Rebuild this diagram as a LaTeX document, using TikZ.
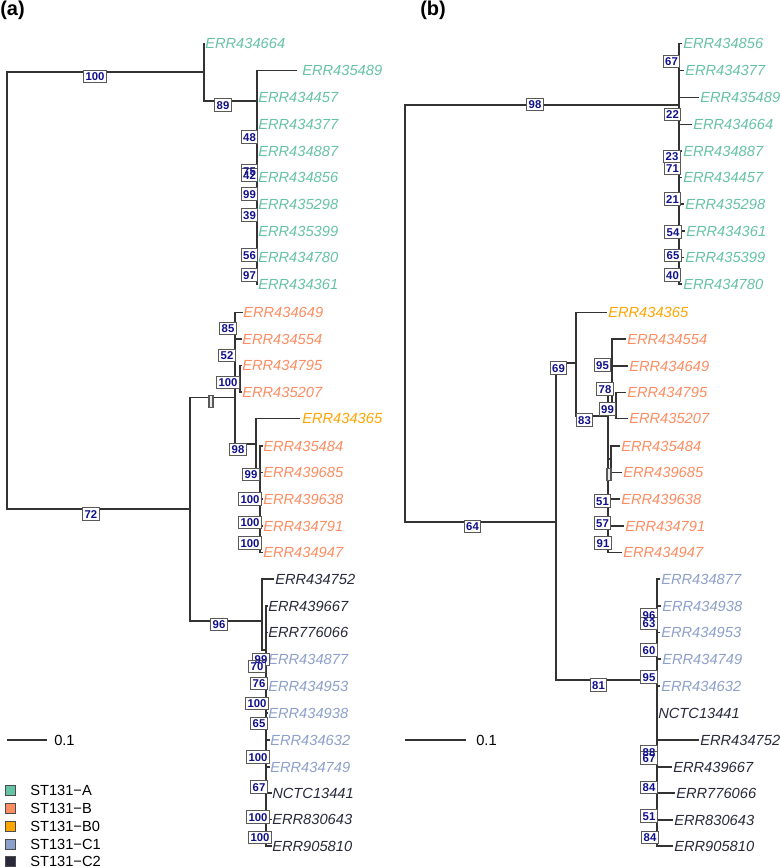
\documentclass[tikz,border=0pt]{standalone}
\usepackage{fontspec}
\setmainfont{Liberation Sans}
\definecolor{cA}{HTML}{66C2A5}
\definecolor{cB}{HTML}{FC8D62}
\definecolor{cBz}{HTML}{FFA500}
\definecolor{cCa}{HTML}{8DA0CB}
\definecolor{cCb}{HTML}{282A3C}
\definecolor{bootc}{HTML}{10108C}
\definecolor{brc}{HTML}{333333}
\begin{document}
\begin{tikzpicture}[x=0.75pt,y=-0.75pt,
  br/.style={draw=brc, line width=0.8pt},
  tip/.style={anchor=west, inner sep=0pt, font=\fontsize{11}{13}\selectfont\itshape},
  bsframe/.style={draw=black!65, fill=white, line width=0.85pt,
    font=\fontsize{8.5}{9}\selectfont\bfseries, inner xsep=1.4pt, inner ysep=1.7pt,
    text height=6.2pt, text depth=0pt},
  bstext/.style={text=bootc, font=\fontsize{8.5}{9}\selectfont\bfseries,
    inner xsep=1.4pt, inner ysep=1.7pt, text height=6.2pt, text depth=0pt},
  emptybox/.style={draw=black!65, fill=black!8, line width=0.8pt, minimum width=3pt,
    minimum height=9.6pt, inner sep=0pt},
  lgbox/.style={draw=black!70, line width=0.5pt, minimum size=7.5pt, inner sep=0pt},
  lgtext/.style={anchor=west, inner sep=0pt, font=\fontsize{11}{13}\selectfont},
  plabel/.style={anchor=base west, inner sep=0pt, font=\fontsize{15}{17}\selectfont\bfseries}]
\useasboundingbox (0,0) rectangle (780,867);

% ---------- panel labels ----------
\node[plabel] (pa) at (0,16) {(a)};
\node[plabel] (pb) at (420,16) {(b)};

% ---------- panel (a) tips ----------
\node[tip,cA] (a664) at (205,43.5) {ERR434664};
\node[tip,cA] (a489) at (302,70.5) {ERR435489};
\node[tip,cA] (a457) at (258,97.5) {ERR434457};
\node[tip,cA] (a377) at (258,124.5) {ERR434377};
\node[tip,cA] (a887) at (258,151) {ERR434887};
\node[tip,cA] (a856) at (258,177.5) {ERR434856};
\node[tip,cA] (a298) at (258,204) {ERR435298};
\node[tip,cA] (a399) at (258,231) {ERR435399};
\node[tip,cA] (a780) at (258,257.5) {ERR434780};
\node[tip,cA] (a361) at (258,284) {ERR434361};
\node[tip,cB] (a649) at (243,312.5) {ERR434649};
\node[tip,cB] (a554) at (242,339) {ERR434554};
\node[tip,cB] (a795) at (242,365.5) {ERR434795};
\node[tip,cB] (a207) at (242,392) {ERR435207};
\node[tip,cBz] (a365) at (302,418.5) {ERR434365};
\node[tip,cB] (a484) at (263,446) {ERR435484};
\node[tip,cB] (a685) at (263,472.5) {ERR439685};
\node[tip,cB] (a638) at (263,499) {ERR439638};
\node[tip,cB] (a791) at (263,526) {ERR434791};
\node[tip,cB] (a947) at (263,552.5) {ERR434947};
\node[tip,cCb] (a752) at (275,579) {ERR434752};
\node[tip,cCb] (a667) at (268,606) {ERR439667};
\node[tip,cCb] (a066) at (268,632.5) {ERR776066};
\node[tip,cCa] (a877) at (268,659) {ERR434877};
\node[tip,cCa] (a953) at (268,686) {ERR434953};
\node[tip,cCa] (a938) at (268,713) {ERR434938};
\node[tip,cCa] (a632) at (270,740) {ERR434632};
\node[tip,cCa] (a749) at (270,767) {ERR434749};
\node[tip,cCb] (a441) at (272,793) {NCTC13441};
\node[tip,cCb] (a643) at (272,819.5) {ERR830643};
\node[tip,cCb] (a810) at (272,846) {ERR905810};

% ---------- panel (a) internal nodes ----------
\coordinate (ar) at (7,290);
\coordinate (aA) at (204,72);
\coordinate (aA2) at (257,101);
\coordinate (aBC) at (190,509);
\coordinate (aB) at (235,397.7);
\coordinate (aB2) at (240,378.5);
\coordinate (aB3) at (256,444);
\coordinate (aB4) at (260,470);
\coordinate (aC) at (262,621);
\coordinate (aC1) at (266,650);

% ---------- panel (a) branches ----------
\draw[br] (ar) |- (aA);
\draw[br] (ar) |- (aBC);
\draw[br] (aA) |- (a664.west);
\draw[br] (aA) |- (aA2);
\draw[br] (aA2) |- ([xshift=-3.5pt]a489.west);
\foreach \t in {a457,a377,a887,a856,a298,a399,a780,a361}{\draw[br] (aA2) |- (\t.west);}
\draw[br] (aBC) |- (aB);
\draw[br] (aBC) |- (aC);
\draw[br] (aB) |- (a649.west);
\draw[br] (aB) |- (a554.west);
\draw[br] (aB) |- (aB2);
\draw[br] (aB2) |- (a795.west);
\draw[br] (aB2) |- (a207.west);
\draw[br] (aB) |- (aB3);
\draw[br] (aB3) |- ([xshift=-1.5pt]a365.west);
\draw[br] (aB3) |- (aB4);
\foreach \t in {a484,a685,a638,a791,a947}{\draw[br] (aB4) |- (\t.west);}
\draw[br] (aC) |- ([xshift=-0.5pt]a752.west);
\draw[br] (aC) |- (aC1);
\foreach \t in {a667,a066,a877,a953,a938,a632,a749,a441,a643,a810}{\draw[br] (aC1) |- (\t.west);}

% ---------- panel (b) tips ----------
\node[tip,cA] (b856) at (683,43.5) {ERR434856};
\node[tip,cA] (b377) at (685,70.5) {ERR434377};
\node[tip,cA] (b489) at (700,97.5) {ERR435489};
\node[tip,cA] (b664) at (693,124.5) {ERR434664};
\node[tip,cA] (b887) at (683,151) {ERR434887};
\node[tip,cA] (b457) at (683,177.5) {ERR434457};
\node[tip,cA] (b298) at (685,204) {ERR435298};
\node[tip,cA] (b361) at (686,231) {ERR434361};
\node[tip,cA] (b399) at (685,257.5) {ERR435399};
\node[tip,cA] (b780) at (683,284) {ERR434780};
\node[tip,cBz] (b365) at (608,312.5) {ERR434365};
\node[tip,cB] (b554) at (627,339) {ERR434554};
\node[tip,cB] (b649) at (629,366) {ERR434649};
\node[tip,cB] (b795) at (627,392.5) {ERR434795};
\node[tip,cB] (b207) at (629,418.5) {ERR435207};
\node[tip,cB] (b484) at (621,446) {ERR435484};
\node[tip,cB] (b685) at (623,472.5) {ERR439685};
\node[tip,cB] (b638) at (621,499) {ERR439638};
\node[tip,cB] (b791) at (625,526) {ERR434791};
\node[tip,cB] (b947) at (623,552.5) {ERR434947};
\node[tip,cCa] (b877) at (661,579) {ERR434877};
\node[tip,cCa] (b938) at (662,606) {ERR434938};
\node[tip,cCa] (b953) at (661,632.5) {ERR434953};
\node[tip,cCa] (b749) at (662,659) {ERR434749};
\node[tip,cCa] (b632) at (661,686) {ERR434632};
\node[tip,cCb] (b441) at (658,713) {NCTC13441};
\node[tip,cCb] (b752) at (700,740) {ERR434752};
\node[tip,cCb] (b667) at (673,767) {ERR439667};
\node[tip,cCb] (b066) at (676,793) {ERR776066};
\node[tip,cCb] (b643) at (674,820) {ERR830643};
\node[tip,cCb] (b810) at (674,846) {ERR905810};

% ---------- panel (b) internal nodes ----------
\coordinate (bR) at (405,313);
\coordinate (bA) at (679,105);
\coordinate (bBC) at (556,522);
\coordinate (bB) at (576,363);
\coordinate (bB2) at (608,416);
\coordinate (bB3) at (612,386);
\coordinate (bB4) at (616,405);
\coordinate (bB5) at (611,459);
\coordinate (bC) at (657,680);

% ---------- panel (b) branches ----------
\draw[br] (bR) |- (bA);
\draw[br] (bR) |- (bBC);
\foreach \t in {b856,b377,b489,b664,b887,b457,b298,b361,b399,b780}{\draw[br] (bA) |- ([xshift=-0.6pt]\t.west);}
\draw[br] (bBC) |- (bB);
\draw[br] (bBC) |- (bC);
\draw[br] (bB) |- ([xshift=-0.6pt]b365.west);
\draw[br] (bB) |- (bB2);
\draw[br] (bB2) |- (bB3);
\draw[br] (bB3) |- ([xshift=-1pt]b554.west);
\draw[br] (bB3) |- ([xshift=-1pt]b649.west);
\draw[br] (bB3) |- (bB4);
\draw[br] (bB4) |- ([xshift=-1pt]b795.west);
\draw[br] (bB4) |- ([xshift=-1pt]b207.west);
\draw[br] (bB2) |- (bB5);
\draw[br] (bB5) |- ([xshift=-1pt]b484.west);
\draw[br] (bB5) |- ([xshift=-1pt]b685.west);
\foreach \t in {b638,b791,b947}{\draw[br] (bB2) |- ([xshift=-1pt]\t.west);}
\foreach \t in {b877,b938,b953,b749,b632,b441,b752,b667,b066,b643,b810}{\draw[br] (bC) |- ([xshift=-0.6pt]\t.west);}

% ---------- support boxes: all frames first, then all values ----------
\def\bootlist{xa1/95/76.5/100, xa2/223/105/89, xa3/249.5/137/48, xa4/249.5/171/75,
  xa5/249.5/175/42, xa6/249.5/194/99, xa7/249.5/215/39, xa8/249.5/255/56,
  xa9/249.5/275/97, xa10/228/328.5/85, xa11/227/355.5/52, xa12/228/382.5/100,
  xa14/238/449.5/98, xa15/251/474.5/99, xa16/250/499/100, xa17/250/522.5/100,
  xa18/250/543/100, xa19/91/514/72, xa20/219/624.5/96, xa21/261/659.5/99,
  xa22/257/666.5/70, xa23/259/683.5/76, xa24/257/703.5/100, xa25/259/723.5/65,
  xa26/258/757/100, xa27/259/787/67, xa28/258/817/100, xa29/260/837.5/100,
  xb1/535/104.5/98, xb2/671.5/61.5/67, xb3/672.5/114.5/22, xb4/672/156.5/23,
  xb5/672.5/168.5/71, xb6/672.5/199/21, xb7/673/232/54, xb8/673/255.5/65,
  xb9/672.5/275/40, xb10/472.5/526.5/64, xb11/558.5/368/69, xb12/584.5/420/83,
  xb13/602.5/365/95, xb14/605/389/78, xb15/607.5/409/99, xb17/602.5/501/51,
  xb18/602.5/523/57, xb19/603/543/91, xb20/598.5/685/81, xb21/649/615/96,
  xb22/649/623.5/63, xb23/649/650/60, xb24/649/677/95, xb25/649/752/88,
  xb26/649/758/67, xb27/649/787.5/84, xb28/649/816/51, xb29/650/837.5/84}
\foreach \n/\x/\y/\v in \bootlist {\node[bsframe] (\n f) at (\x,\y) {\phantom{\v}};}
\node[emptybox] (xa13) at (211,401.5) {};
\node[emptybox] (xb16) at (609,474.5) {};
\foreach \n/\x/\y/\v in \bootlist {\node[bstext] (\n) at (\x,\y) {\v};}

% ---------- scale bars ----------
\coordinate (sa1) at (7,740);
\coordinate (sa2) at (47,740);
\draw[br] (sa1) -- (sa2);
\node[lgtext] (sal) at (54,740) {0.1};
\coordinate (sb1) at (405,740);
\coordinate (sb2) at (466,740);
\draw[br] (sb1) -- (sb2);
\node[lgtext] (sbl) at (476,740) {0.1};

% ---------- legend ----------
\node[lgbox,fill=cA] (lg1) at (10,790) {};
\node[lgbox,fill=cB] (lg2) at (10,808) {};
\node[lgbox,fill=cBz] (lg3) at (10,826) {};
\node[lgbox,fill=cCa] (lg4) at (10,844) {};
\node[lgbox,fill=cCb] (lg5) at (10,861) {};
\node[lgtext] (lt1) at (30,790.5) {ST131−A};
\node[lgtext] (lt2) at (30,808.5) {ST131−B};
\node[lgtext] (lt3) at (30,826.5) {ST131−B0};
\node[lgtext] (lt4) at (30,844.5) {ST131−C1};
\node[lgtext] (lt5) at (30,861) {ST131−C2};
\end{tikzpicture}
\end{document}
